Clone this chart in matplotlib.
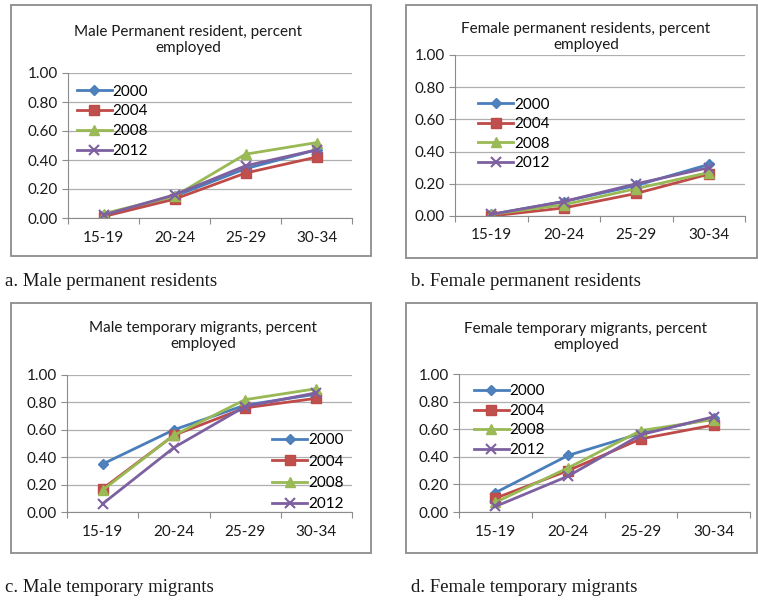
import matplotlib.pyplot as plt
from matplotlib.patches import Rectangle

plt.rcParams["font.family"] = ["Lato", "DejaVu Sans"]

W, H = 758, 603

age_groups = ["15-19", "20-24", "25-29", "30-34"]
years = ["2000", "2004", "2008", "2012"]

# share employed
male_perm = {
    "2000": [0.02, 0.15, 0.34, 0.47],
    "2004": [0.01, 0.13, 0.31, 0.42],
    "2008": [0.03, 0.15, 0.44, 0.52],
    "2012": [0.02, 0.16, 0.36, 0.47],
}
female_perm = {
    "2000": [0.01, 0.09, 0.19, 0.32],
    "2004": [0.00, 0.05, 0.14, 0.26],
    "2008": [0.01, 0.07, 0.17, 0.27],
    "2012": [0.01, 0.09, 0.20, 0.30],
}
male_temp = {
    "2000": [0.35, 0.60, 0.78, 0.86],
    "2004": [0.17, 0.56, 0.76, 0.83],
    "2008": [0.16, 0.56, 0.82, 0.90],
    "2012": [0.06, 0.47, 0.77, 0.87],
}
female_temp = {
    "2000": [0.14, 0.41, 0.57, 0.68],
    "2004": [0.10, 0.30, 0.53, 0.63],
    "2008": [0.07, 0.32, 0.59, 0.67],
    "2012": [0.04, 0.26, 0.56, 0.69],
}

styles = {
    "2000": dict(color="#4A7EBB", marker="D", ms=5, mfc="#4F81BD"),
    "2004": dict(color="#BE4B48", marker="s", ms=7, mfc="#C0504D"),
    "2008": dict(color="#98B954", marker="^", ms=7.5, mfc="#9BBB59"),
    "2012": dict(color="#7D60A0", marker="x", ms=7, mew=1.5),
}

# panel layout in pixels: plot area (x0, y0, x1, y1), outer box, title, legend anchor, caption
panels = [
    dict(data=male_perm, plot=(68, 73, 352, 218), box=(11, 5, 371, 256),
         title="Male Permanent resident, percent\nemployed", tpos=(188, 40),
         leg=(0.03, 0.92), lsp=0.38, cap="a. Male permanent residents", cpos=(5, 282)),
    dict(data=female_perm, plot=(455, 55, 745, 216), box=(406, 5, 757, 258),
         title="Female permanent residents, percent\nemployed", tpos=(586, 37),
         leg=(0.08, 0.735), lsp=0.36, cap="b. Female permanent residents", cpos=(411, 281)),
    dict(data=male_temp, plot=(67, 375, 352, 512), box=(11, 303, 371, 553),
         title="Male temporary migrants, percent\nemployed", tpos=(203, 336),
         leg=(0.72, 0.575), lsp=0.48, cap="c. Male temporary migrants", cpos=(5, 587)),
    dict(data=female_temp, plot=(459, 374, 750, 512), box=(406, 303, 757, 553),
         title="Female temporary migrants, percent\nemployed", tpos=(586, 337),
         leg=(0.05, 0.925), lsp=0.36, cap="d. Female temporary migrants", cpos=(411, 588)),
]

fig = plt.figure(figsize=(W / 100, H / 100), dpi=100)
fig.patch.set_facecolor("white")


def fx(px):
    return px / W


def fy(py):
    return 1 - py / H


x = list(range(len(age_groups)))

for p in panels:
    bx0, by0, bx1, by1 = p["box"]
    fig.patches.append(Rectangle((fx(bx0), fy(by1)), fx(bx1 - bx0), (by1 - by0) / H,
                                 transform=fig.transFigure, fill=False,
                                 edgecolor="#8C8C8C", linewidth=1.3))
    x0, y0, x1, y1 = p["plot"]
    ax = fig.add_axes([fx(x0), fy(y1), fx(x1 - x0), (y1 - y0) / H])
    for yr in years:
        ax.plot(x, p["data"][yr], linewidth=2, label=yr, **styles[yr])
    ax.set_xlim(-0.5, 3.5)
    ax.set_ylim(0, 1.0)
    ax.set_yticks([0, 0.2, 0.4, 0.6, 0.8, 1.0])
    ax.set_yticklabels(["0.00", "0.20", "0.40", "0.60", "0.80", "1.00"])
    ax.set_xticks([-0.5, 0.5, 1.5, 2.5, 3.5])
    ax.set_xticklabels([])
    ax.set_xticks(x, minor=True)
    ax.set_xticklabels(age_groups, minor=True)
    ax.tick_params(axis="x", which="major", length=4, color="#8C8C8C")
    ax.tick_params(axis="x", which="minor", length=0, pad=9, labelsize=11, labelcolor="#1A1A1A")
    ax.tick_params(axis="y", length=4, color="#8C8C8C", labelsize=11, labelcolor="#1A1A1A")
    ax.grid(axis="y", color="#AFAFAF", linewidth=0.9)
    ax.set_axisbelow(True)
    for s in ["top", "right"]:
        ax.spines[s].set_visible(False)
    for s in ["left", "bottom"]:
        ax.spines[s].set_color("#8C8C8C")
    ax.legend(loc="upper left", bbox_to_anchor=p["leg"], frameon=False, fontsize=11,
              handlelength=2.3, handletextpad=0.05, labelspacing=p["lsp"], borderpad=0,
              borderaxespad=0)
    fig.text(fx(p["tpos"][0]), fy(p["tpos"][1]), p["title"], ha="center", va="center",
             fontsize=11, color="#1A1A1A", linespacing=1.15)
    fig.text(fx(p["cpos"][0]), fy(p["cpos"][1]), p["cap"], ha="left", va="center",
             fontsize=13.5, family=["Liberation Serif", "DejaVu Serif"], color="#1A1A1A")

fig.savefig("out.png", dpi=100, facecolor="white")
